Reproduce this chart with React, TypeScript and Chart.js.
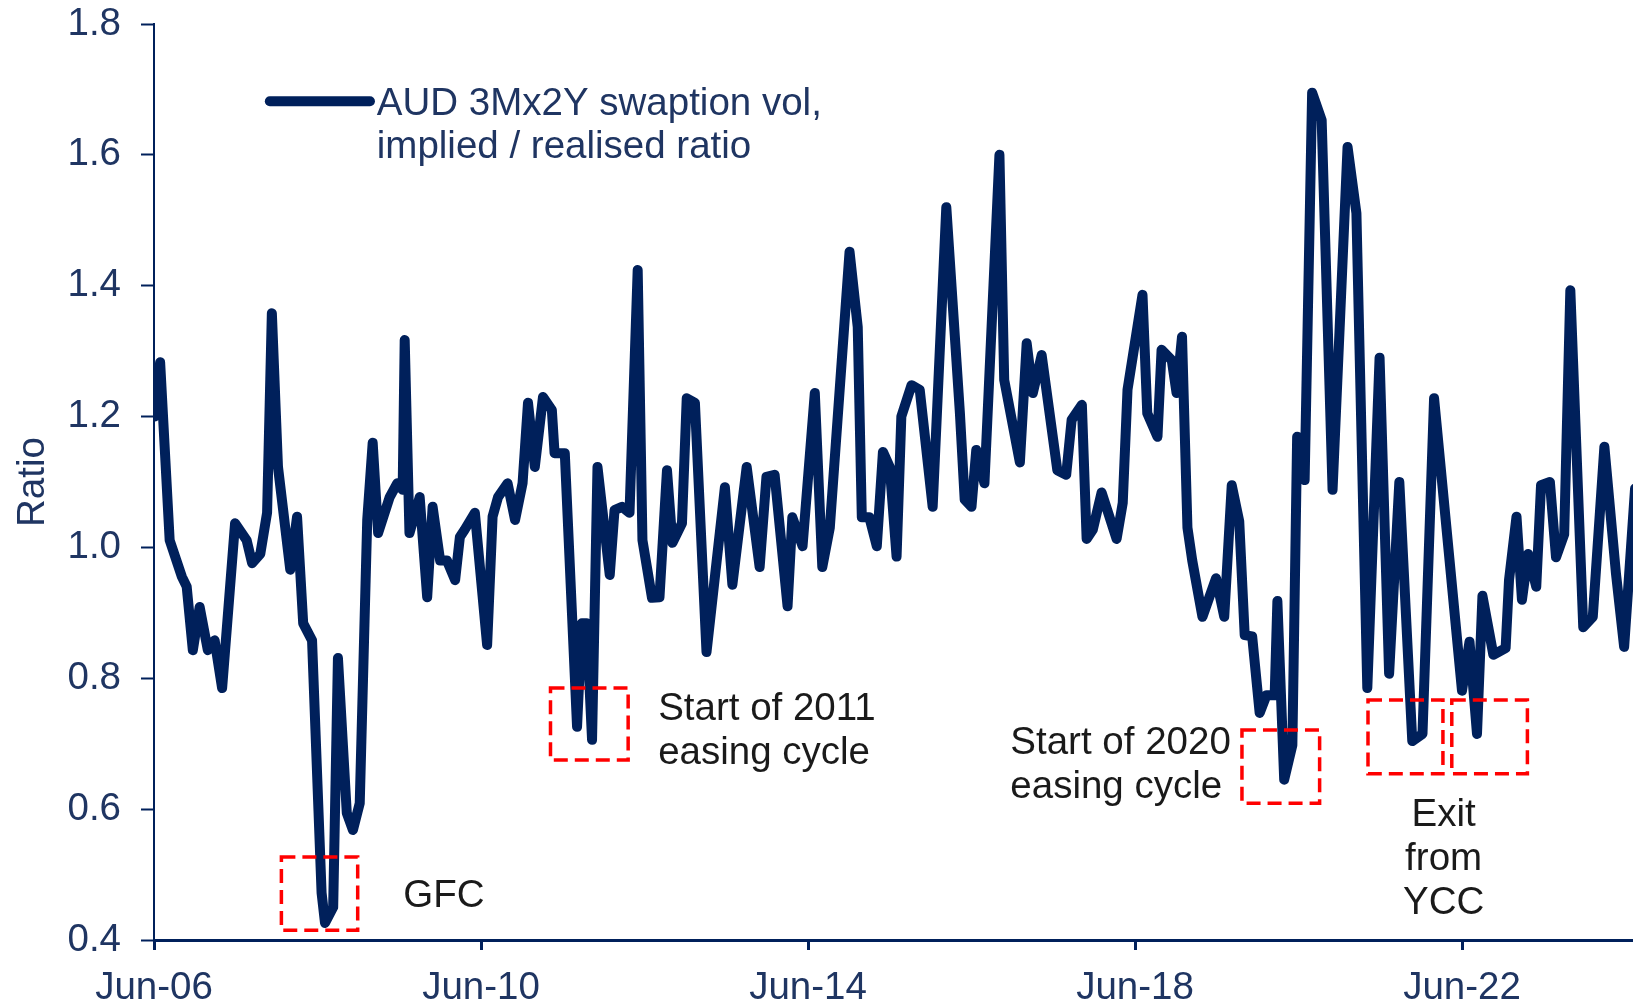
import React, { useEffect, useRef } from 'react';
import { Chart, registerables } from 'chart.js';

Chart.register(...registerables);

// Months since Jun-06 (fractional)
const months = [
  0.1, 0.9, 2.3, 4.1, 4.8, 5.7, 6.7, 7.9, 8.9, 10.0,
  11.9, 13.6, 14.4, 15.6, 16.6, 17.3, 18.2, 20.0, 21.0, 21.9,
  23.2, 24.6, 25.1, 26.3, 27.0, 28.3, 29.2, 30.2, 31.3, 32.1,
  32.9, 34.6, 35.7, 36.5, 36.8, 37.5, 39.0, 40.1, 40.9, 42.0,
  43.0, 44.2, 44.9, 45.6, 47.1, 48.9, 49.7, 50.5, 51.9, 53.0,
  54.1, 54.9, 55.9, 57.1, 58.4, 58.8, 60.3, 62.1, 62.8, 63.5,
  64.3, 65.1, 66.9, 67.6, 68.7, 69.8, 71.0, 71.7, 73.1, 74.2,
  75.3, 76.1, 77.5, 78.2, 79.4, 81.1, 83.8, 84.9, 87.0, 88.9,
  89.9, 91.1, 93.0, 93.7, 95.2, 97.0, 98.1, 99.2, 102.1, 103.3,
  103.9, 105.0, 106.1, 107.0, 108.0, 109.0, 109.7, 111.2, 112.4, 114.3,
  116.3, 118.3, 119.0, 120.0, 120.7, 121.9, 124.1, 124.8, 127.1, 128.1,
  129.0, 130.3, 132.6, 133.9, 134.7, 136.2, 136.9, 137.8, 139.1, 141.3,
  142.2, 142.9, 145.1, 145.8, 147.3, 147.9, 149.4, 150.1, 150.9, 151.7,
  152.4, 153.9, 155.9, 157.1, 158.2, 159.3, 160.1, 161.2, 162.3, 163.3,
  164.5, 164.9, 165.9, 167.1, 167.8, 168.9, 170.0, 171.4, 173.0, 175.2,
  176.5, 178.1, 179.9, 181.3, 182.8, 184.7, 186.2, 187.9, 192.0, 193.1,
  194.2, 195.0, 196.6, 198.4, 198.9, 200.0, 200.8, 201.7, 202.9, 203.6,
  204.9, 205.8, 207.0, 207.9, 209.8, 211.2, 212.9, 214.6, 215.8, 217.4,
];

// AUD 3Mx2Y swaption vol, implied / realised ratio
const ratio = [
  1.2, 1.283, 1.011, 0.955, 0.94, 0.843, 0.909, 0.843, 0.858, 0.785,
  1.037, 1.011, 0.976, 0.99, 1.053, 1.358, 1.123, 0.966, 1.047, 0.884,
  0.858, 0.472, 0.426, 0.45, 0.831, 0.594, 0.568, 0.609, 1.042, 1.16,
  1.022, 1.077, 1.098, 1.088, 1.317, 1.022, 1.077, 0.924, 1.062, 0.98,
  0.98, 0.95, 1.016, 1.027, 1.053, 0.851, 1.047, 1.077, 1.098, 1.042,
  1.098, 1.221, 1.123, 1.23, 1.21, 1.144, 1.144, 0.726, 0.884, 0.884,
  0.706, 1.123, 0.958, 1.057, 1.062, 1.053, 1.424, 1.011, 0.923, 0.924,
  1.118, 1.007, 1.037, 1.228, 1.221, 0.84, 1.092, 0.943, 1.123, 0.97,
  1.108, 1.111, 0.91, 1.046, 1.002, 1.236, 0.97, 1.03, 1.452, 1.337,
  1.046, 1.046, 1.002, 1.146, 1.123, 0.986, 1.2, 1.248, 1.241, 1.062,
  1.52, 1.205, 1.073, 1.062, 1.149, 1.098, 1.6, 1.256, 1.13, 1.312,
  1.236, 1.294, 1.118, 1.111, 1.195, 1.218, 1.013, 1.027, 1.084, 1.013,
  1.068, 1.241, 1.386, 1.205, 1.169, 1.302, 1.286, 1.236, 1.322, 1.03,
  0.98, 0.894, 0.953, 0.894, 1.095, 1.04, 0.866, 0.864, 0.747, 0.774,
  0.774, 0.918, 0.645, 0.698, 1.169, 1.103, 1.695, 1.653, 1.088, 1.612,
  1.511, 0.785, 1.29, 0.807, 1.1, 0.704, 0.715, 1.228, 0.781, 0.856,
  0.715, 0.926, 0.836, 0.846, 0.95, 1.047, 0.92, 0.99, 0.94, 1.095,
  1.1, 0.985, 1.02, 1.393, 0.878, 0.894, 1.154, 0.96, 0.848, 1.09,
];

const xTickMonths = [0, 48, 96, 144, 192];
const xTickLabels = ['Jun-06', 'Jun-10', 'Jun-14', 'Jun-18', 'Jun-22'];
const xMin = 0;
const xMax = 217.1;
const yMin = 0.4;
const yMax = 1.8;
const yStep = 0.2;

const seriesName = ['AUD 3Mx2Y swaption vol,', 'implied / realised ratio'];
const legendLineMonths = [17.0, 31.7];
const legendTextMonth = 32.7;
const legendValue = 1.682;

// Highlight boxes (months, ratio)
const boxXMin = [18.7, 58.2, 159.7, 178.2, 190.5];
const boxXMax = [29.9, 69.6, 171.1, 189.2, 201.6];
const boxYMin = [0.415, 0.675, 0.609, 0.654, 0.654];
const boxYMax = [0.527, 0.785, 0.721, 0.767, 0.767];

// Notes
const noteLines = [['GFC'], ['Start of 2011', 'easing cycle'], ['Start of 2020', 'easing cycle'], ['Exit', 'from', 'YCC']];
const noteX = [36.6, 74.0, 125.7, 189.3];
const noteY = [0.472, 0.758, 0.706, 0.596];
const noteAlign: CanvasTextAlign[] = ['left', 'left', 'left', 'center'];

const NAVY = '#00205B';
const LABEL = '#1F3562';
const FONT = "Arial, 'Liberation Sans', sans-serif";
const FS = 38.5;

export default function App() {
  const ref = useRef<HTMLCanvasElement | null>(null);

  useEffect(() => {
    const canvas = ref.current;
    if (!canvas) return;

    const overlay = {
      id: 'overlay',
      afterDatasetsDraw(chart: any) {
        const { ctx } = chart;
        const xs = chart.scales.x;
        const ys = chart.scales.y;
        ctx.save();
        // boxes
        ctx.strokeStyle = '#FF0000';
        ctx.lineWidth = 3.5;
        ctx.setLineDash([14, 7]);
        for (let i = 0; i < boxXMin.length; i++) {
          const x0 = xs.getPixelForValue(boxXMin[i]);
          const x1 = xs.getPixelForValue(boxXMax[i]);
          const y0 = ys.getPixelForValue(boxYMax[i]);
          const y1 = ys.getPixelForValue(boxYMin[i]);
          ctx.strokeRect(x0, y0, x1 - x0, y1 - y0);
        }
        ctx.setLineDash([]);
        // notes
        ctx.fillStyle = '#1A1A1A';
        ctx.font = `${FS}px ${FONT}`;
        ctx.textBaseline = 'alphabetic';
        for (let i = 0; i < noteLines.length; i++) {
          const x = xs.getPixelForValue(noteX[i]);
          const y = ys.getPixelForValue(noteY[i]);
          ctx.textAlign = noteAlign[i];
          noteLines[i].forEach((t, j) => {
            ctx.fillText(t, x, y + j * 44 + FS * 0.358);
          });
        }
        // legend
        const lx0 = xs.getPixelForValue(legendLineMonths[0]);
        const lx1 = xs.getPixelForValue(legendLineMonths[1]);
        const ly = ys.getPixelForValue(legendValue);
        ctx.strokeStyle = NAVY;
        ctx.lineWidth = 10;
        ctx.lineCap = 'round';
        ctx.beginPath();
        ctx.moveTo(lx0, ly);
        ctx.lineTo(lx1, ly);
        ctx.stroke();
        ctx.fillStyle = LABEL;
        ctx.textAlign = 'left';
        const tx = xs.getPixelForValue(legendTextMonth);
        seriesName.forEach((t, j) => {
          ctx.fillText(t, tx, ly + j * 43 + FS * 0.358);
        });
        ctx.restore();
      },
    };

    const chart = new Chart(canvas, {
      type: 'line',
      data: {
        datasets: [
          {
            label: seriesName.join(' '),
            data: months.map((m, i) => ({ x: m, y: ratio[i] })),
            borderColor: NAVY,
            borderWidth: 10,
            pointRadius: 0,
            tension: 0,
            borderJoinStyle: 'round',
            borderCapStyle: 'round',
            fill: false,
          },
        ],
      },
      options: {
        responsive: false,
        animation: false,
        layout: { padding: { top: 24, right: 0, bottom: 0, left: 0 } },
        plugins: { legend: { display: false }, tooltip: { enabled: false } },
        scales: {
          x: {
            type: 'linear',
            min: xMin,
            max: xMax,
            afterBuildTicks: (s: any) => {
              s.ticks = xTickMonths.map((v) => ({ value: v }));
            },
            afterFit: (s: any) => {
              s.height = 64;
              s.paddingRight = 0;
            },
            ticks: {
              autoSkip: false,
              maxRotation: 0,
              color: LABEL,
              font: { size: FS, family: FONT },
              padding: 15,
              callback: (v: any) => {
                const i = xTickMonths.indexOf(Number(v));
                return i >= 0 ? xTickLabels[i] : '';
              },
            },
            grid: {
              display: true,
              drawOnChartArea: false,
              drawTicks: true,
              tickLength: 10,
              tickColor: NAVY,
              tickWidth: 3,
            },
            border: { display: true, color: NAVY, width: 3 },
          },
          y: {
            type: 'linear',
            min: yMin,
            max: yMax,
            afterFit: (s: any) => {
              s.width = 154;
              s.paddingTop = 0;
              s.paddingBottom = 0;
            },
            ticks: {
              stepSize: yStep,
              color: LABEL,
              font: { size: FS, family: FONT },
              padding: 20,
              callback: (v: any) => Number(v).toFixed(1),
            },
            grid: {
              display: true,
              drawOnChartArea: false,
              drawTicks: true,
              tickLength: 13,
              tickColor: NAVY,
              tickWidth: 2,
            },
            border: { display: true, color: NAVY, width: 2 },
            title: {
              display: true,
              text: 'Ratio',
              color: LABEL,
              font: { size: FS, family: FONT },
              padding: { top: 10, bottom: 0 },
            },
          },
        },
      },
      plugins: [overlay],
    } as any);

    return () => chart.destroy();
  }, []);

  return (
    <div style={{ position: 'fixed', left: 0, top: 0, width: 1633, height: 1004, background: '#fff', overflow: 'hidden' }}>
      <canvas ref={ref} width={1633} height={1004} style={{ display: 'block' }} />
    </div>
  );
}
